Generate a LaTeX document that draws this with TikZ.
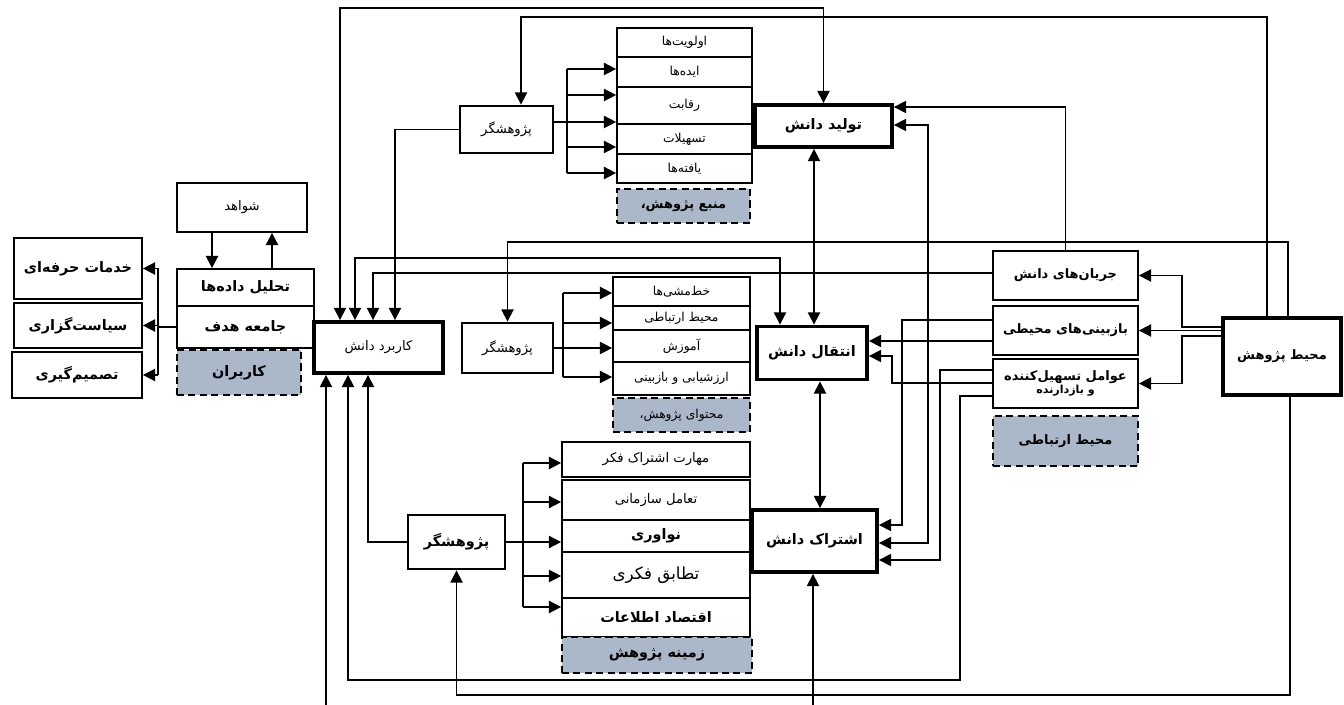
\documentclass[tikz,border=0pt]{standalone}
\usepackage{fontspec}
\usepackage{xcolor}
\usepackage{tikz}
\usetikzlibrary{arrows.meta, calc}
\TeXXeTstate=1
\newfontfamily\farsifont[Script=Arabic]{DejaVu Sans}
\newcommand{\fa}[1]{\beginR #1\endR}
\definecolor{grayblue}{RGB}{171,184,202}

\begin{document}
\begin{tikzpicture}[
    x=0.02cm, y=-0.02cm,
    >={Triangle[length=7pt,width=7pt]},
    every node/.style={font=\farsifont\fontsize{7.5}{9}\selectfont},
    box/.style={rectangle, draw, line width=1pt, inner sep=1pt, align=center},
    kbox/.style={box, line width=2.2pt},
    rbox/.style={box, line width=1.6pt},
    tagbox/.style={box, fill=grayblue, line width=1.3pt, dash pattern=on 4pt off 2.5pt},
    bf/.style={font=\farsifont\bfseries\fontsize{8.2}{10}\selectfont},
    rbf/.style={font=\farsifont\bfseries\fontsize{7.4}{9}\selectfont},
    sm/.style={font=\farsifont\fontsize{7}{8}\selectfont},
    link/.style={line width=0.9pt}
]
\useasboundingbox (0,0) rectangle (1344,705);

% ============================================================
% 1. USERS (left)
% ============================================================
\node[box, bf, minimum width=2.56cm, minimum height=1.22cm] (khad) at (78,268.5) {\fa{خدمات حرفه‌ای}};
\node[box, bf, minimum width=2.56cm, minimum height=0.90cm] (sias) at (78,325.5) {\fa{سیاست‌گزاری}};
\node[box, bf, minimum width=2.60cm, minimum height=0.92cm] (tasm) at (77,375)   {\fa{تصمیم‌گیری}};

\node[box, minimum width=2.60cm, minimum height=0.98cm] (shav) at (242,207.5) {\fa{شواهد}};
\node[box, bf, minimum width=2.74cm, minimum height=0.74cm] (tahl) at (245.5,287.5) {\fa{تحلیل داده‌ها}};
\node[box, bf, minimum width=2.74cm, minimum height=0.84cm] (jame) at (245.5,327) {\fa{جامعه هدف}};
\node[tagbox, bf, minimum width=2.48cm, minimum height=0.90cm] (karb) at (239,372.5) {\fa{کاربران}};

\node[kbox, minimum width=2.58cm, minimum height=1.02cm] (kar) at (378.5,347.5) {\fa{کاربرد دانش}};

\draw[link, ->] (shav.south -| 212,0) -- (tahl.north -| 212,0);
\draw[link, ->] (tahl.north -| 272,0) -- (shav.south -| 272,0);
\draw[link] (jame.west) -- (158,0 |- jame.west);
\draw[link] (158,0 |- khad.east) -- (158,0 |- tasm.east);
\foreach \n in {khad, sias, tasm}
    \draw[link, ->] (158,0 |- \n.east) -- (\n.east);

% ============================================================
% 2. RESEARCH SOURCE (top)
% ============================================================
\node[rbox, minimum width=1.86cm, minimum height=0.94cm] (pzh1) at (506.5,129.5) {\fa{پژوهشگر}};

\node[box, sm, minimum width=2.70cm, minimum height=0.58cm] (olav) at (684.5,42.5)  {\fa{اولویت‌ها}};
\node[box, sm, minimum width=2.70cm, minimum height=0.60cm] (ideh) at (684.5,72)    {\fa{ایده‌ها}};
\node[box, sm, minimum width=2.70cm, minimum height=0.74cm] (raqa) at (684.5,105.5) {\fa{رقابت}};
\node[box, sm, minimum width=2.70cm, minimum height=0.60cm] (tash) at (684.5,139)   {\fa{تسهیلات}};
\node[box, sm, minimum width=2.70cm, minimum height=0.58cm] (yaft) at (684.5,168.5) {\fa{یافته‌ها}};
\node[tagbox, rbf, minimum width=2.66cm, minimum height=0.68cm] (manb) at (683.5,206) {\fa{منبع پژوهش،}};

\node[kbox, bf, minimum width=2.74cm, minimum height=0.84cm] (tol) at (823.5,126) {\fa{تولید دانش}};

\draw[link] (pzh1.east |- 0,122) -- (567,122);
\draw[link] (567,69) -- (567,173);
\foreach \y in {69, 95, 122, 147, 173}
    \draw[link, ->] (567,\y) -- (olav.west |- 0,\y);
\draw[link, ->] (pzh1.west) -| (kar.north -| 395,0);

% ============================================================
% 3. RESEARCH CONTENT (middle)
% ============================================================
\node[rbox, minimum width=1.82cm, minimum height=1.0cm] (pzh2) at (507.5,348) {\fa{پژوهشگر}};

\node[box, sm, minimum width=2.74cm, minimum height=0.58cm] (khat) at (681.5,291.5) {\fa{خط‌مشی‌ها}};
\node[box, sm, minimum width=2.74cm, minimum height=0.48cm] (mert) at (681.5,318)   {\fa{محیط ارتباطی}};
\node[box, sm, minimum width=2.74cm, minimum height=0.64cm] (amuz) at (681.5,346)   {\fa{آموزش}};
\node[box, sm, minimum width=2.74cm, minimum height=0.66cm] (arzb) at (681.5,378.5) {\fa{ارزشیابی و بازبینی}};
\node[tagbox, sm, minimum width=2.74cm, minimum height=0.68cm] (mhtv) at (681.5,415) {\fa{محتوای پژوهش،}};

\node[kbox, bf, minimum width=2.20cm, minimum height=1.06cm] (ent) at (812,353) {\fa{انتقال دانش}};

\draw[link] (563,293) -- (563,377);
\foreach \y in {293, 323, 348, 377}
    \draw[link, ->] (563,\y) -- (khat.west |- 0,\y);
\draw[link] (pzh2.east) -- (563,0 |- pzh2.east);

% ============================================================
% 4. RESEARCH FIELD (bottom)
% ============================================================
\node[rbox, bf, minimum width=1.94cm, minimum height=1.08cm] (pzh3) at (456.5,542) {\fa{پژوهشگر}};

\node[box, minimum width=3.76cm, minimum height=0.70cm] (mhrt) at (656,459.5) {\fa{مهارت اشتراک فکر}};
\node[box, minimum width=3.76cm, minimum height=0.80cm] (taml) at (656,500)   {\fa{تعامل سازمانی}};
\node[box, bf, minimum width=3.76cm, minimum height=0.64cm] (noav) at (656,536) {\fa{نواوری}};
\node[box, minimum width=3.76cm, minimum height=0.92cm, font=\farsifont\fontsize{9.5}{11}\selectfont] (tatb) at (656,575) {\fa{تطابق فکری}};
\node[box, bf, minimum width=3.76cm, minimum height=0.78cm] (eqts) at (656,617.5) {\fa{اقتصاد اطلاعات}};
\node[tagbox, bf, minimum width=3.80cm, minimum height=0.72cm] (zamn) at (657,655) {\fa{زمینه پژوهش}};

\node[kbox, bf, minimum width=2.50cm, minimum height=1.24cm] (esh) at (814.5,541) {\fa{اشتراک دانش}};

\draw[link] (523,463) -- (523,607);
\foreach \y in {463, 502, 542, 576, 607}
    \draw[link, ->] (523,\y) -- (mhrt.west |- 0,\y);
\draw[link] (pzh3.east) -- (523,0 |- pzh3.east);
\draw[link, ->] (pzh3.west) -| (kar.south -| 368,0);

% ============================================================
% 5. COMMUNICATION ENVIRONMENT (right)
% ============================================================
\node[box, rbf, minimum width=2.90cm, minimum height=0.98cm] (jary) at (1065.5,275.5) {\fa{جریان‌های دانش}};
\node[box, rbf, minimum width=2.90cm, minimum height=0.98cm] (bazb) at (1065.5,330.5) {\fa{بازبینی‌های محیطی}};
\node[box, rbf, minimum width=2.90cm, minimum height=0.98cm] (avam) at (1065.5,383.5)
    {\fa{عوامل تسهیل‌کننده}\\[-2pt]{\fontsize{6.3}{7}\selectfont\fa{و بازدارنده}}};
\node[tagbox, rbf, minimum width=2.90cm, minimum height=1.0cm] (mrt2) at (1065.5,441) {\fa{محیط ارتباطی}};

\node[kbox, rbf, minimum width=2.36cm, minimum height=1.54cm] (moh) at (1282,356.5) {\fa{محیط پژوهش}};

\draw[link, ->] (moh.west |- 0,327) -| (1182,0 |- jary.east) -- (jary.east);
\draw[link, ->] (moh.west |- bazb.east) -- (bazb.east);
\draw[link, ->] (moh.west |- 0,336) -| (1182,0 |- avam.east) -- (avam.east);

% ============================================================
% 6. KNOWLEDGE LINKS
% ============================================================
\coordinate (inK) at (326,705);
\coordinate (inE) at (813,705);

\draw[link, <->] (kar.north -| 340,0) -- (340,8) -| (tol.north);
\draw[link, <->] (kar.north -| 355,0) -- (355,258) -| (ent.north -| 780,0);
\draw[link, ->] (jary.west |- 0,273) -| (kar.north -| 373,0);
\draw[link, ->] (inK) -- (kar.south -| 326,0);
\draw[link, ->] (avam.west |- 0,396) -| (960,680) -| (kar.south -| 348,0);

\draw[link, ->] (moh.north -| 1267,0) -- (1267,17) -| (pzh1.north -| 521,0);
\draw[link, ->] (moh.north -| 1288,0) -- (1288,242) -| (pzh2.north);
\draw[link, ->] (moh.south -| 1290,0) -- (1290,695) -| (pzh3.south);

\draw[link, ->] (jary.north) |- (tol.east |- 0,107);
\draw[link, <->] (tol.east |- 0,125) -| (928,543) -- (esh.east |- 0,543);
\draw[link, <->] (tol.south -| 814,0) -- (ent.north -| 814,0);
\draw[link, <->] (ent.south -| 820,0) -- (esh.north -| 820,0);

\draw[link, ->] (bazb.west |- 0,320) -| (902,525) -- (esh.east |- 0,525);
\draw[link, ->] (bazb.west |- 0,341) -- (ent.east |- 0,341);
\draw[link, ->] (avam.west |- 0,383) -| (892,356) -- (ent.east |- 0,356);
\draw[link, ->] (avam.west |- 0,370) -| (940,560) -- (esh.east |- 0,560);
\draw[link, ->] (inE) -- (esh.south -| 813,0);

\end{tikzpicture}
\end{document}
